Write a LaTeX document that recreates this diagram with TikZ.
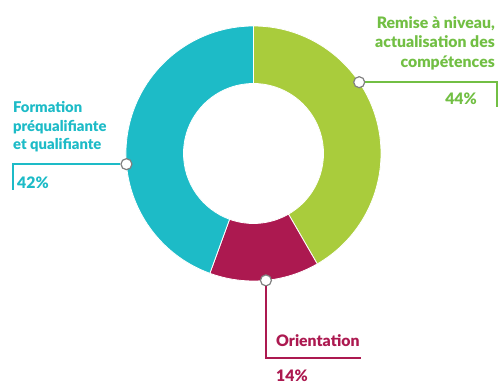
\documentclass[tikz,border=0pt]{standalone}
\usepackage{fontspec}
\setmainfont{Lato}[BoldFont={Lato Black}]
\usetikzlibrary{positioning}
\definecolor{ringgreen}{HTML}{A9CC3C}
\definecolor{textgreen}{HTML}{72BF44}
\definecolor{ringcyan}{HTML}{1DBBC7}
\definecolor{ringred}{HTML}{AC1950}

\begin{document}
\begin{tikzpicture}[x=1pt,y=1pt,
	pin dot/.style={circle,draw=gray,fill=white,line width=1.2pt,inner sep=0pt,minimum size=11pt},
	leader/.style={line width=1.8pt},
	share/.style={font=\bfseries\fontsize{15.8}{18.3}\selectfont,inner sep=0pt}]
	\useasboundingbox (-253.5,-231.5) rectangle (244.5,153.5);
	\foreach \from/\to/\col in {90/-60/ringgreen,-60/-110/ringred,-110/-270/ringcyan}
		\filldraw[fill=\col,draw=white,line width=0.8pt] (\from:127.5) arc[start angle=\from,end angle=\to,radius=127.5]
			-- (\to:70) arc[start angle=\to,end angle=\from,radius=70] -- cycle;
	\coordinate (green end) at (243.5,46.5);
	\coordinate (cyan end) at (-240.5,-36.5);
	\coordinate (red end) at (107.5,-204.5);
	\node[pin dot] (green dot) at (34:127.5) {};
	\node[pin dot] (cyan dot) at (184.8:127.5) {};
	\node[pin dot] (red dot) at (-84.4:127.5) {};
	\draw[leader,textgreen] (green dot) -| (green end);
	\draw[leader,ringcyan] (cyan dot) -| (cyan end);
	\draw[leader,ringred] (red dot) |- (red end);
	\node[share,textgreen,align=right,anchor=north east,font=\bfseries\fontsize{15.8}{19.6}\selectfont] (green label) at (241.5,137.5)
		{Remise à niveau,\\actualisation des\\compétences};
	\node[share,textgreen,anchor=east] (green share) at (223.5,54.5) {44\%};
	\node[share,ringcyan,align=left,anchor=north west,font=\bfseries\fontsize{14.8}{18.3}\selectfont] (cyan label) at (-240.5,52.1)
		{Formation\\préqualifiante\\et qualifiante};
	\node[share,ringcyan,anchor=west] (cyan share) at (-236.5,-29.5) {42\%};
	\node[share,ringred,anchor=west] (red label) at (22.5,-187.5) {Orientation};
	\node[share,ringred,anchor=west] (red share) at (22.5,-222) {14\%};
\end{tikzpicture}
\end{document}
